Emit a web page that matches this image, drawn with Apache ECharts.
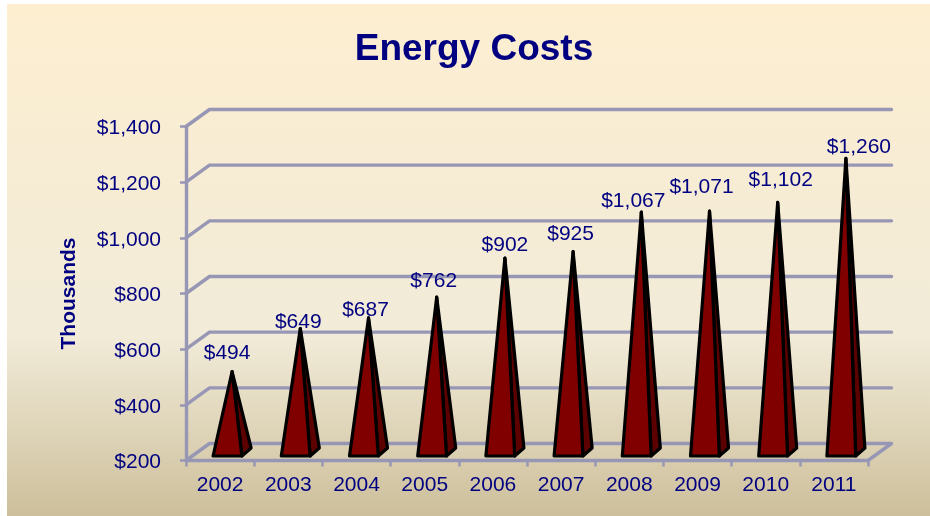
<!DOCTYPE html>
<html>
<head>
<meta charset="utf-8">
<style>
  html, body { margin: 0; padding: 0; background: #fff; }
  #main { width: 930px; height: 516px; }
</style>
<script src="https://cdn.jsdelivr.net/npm/echarts@6/dist/echarts.min.js"></script>
</head>
<body>
<div id="main"></div>
<script>
var years = ['2002', '2003', '2004', '2005', '2006', '2007', '2008', '2009', '2010', '2011'];
var costs = [494, 649, 687, 762, 902, 925, 1067, 1071, 1102, 1260];
var yTicks = [200, 400, 600, 800, 1000, 1200, 1400];

// value labels were placed by hand in the original, offset from the apex
var labelShift = [[-5, -18], [-2, -6], [-3, -8], [-3, -16], [0, -13], [-2.5, -18], [-8, -11], [-8, -24], [3, -22], [13, -11.5]];

var navy = '#000080';
var gridColor = '#9797b5';
var font = '"Liberation Sans", Arial, sans-serif';

// depth of the fake 3D floor
var depthX = 23.5;
var depthY = 17;

function money(v) {
    return '$' + String(v).replace(/\B(?=(\d{3})+$)/, ',');
}

function renderWall(params, api) {
    var cs = params.coordSys;
    var p = api.coord([0, api.value(0)]);
    var y = p[1];
    var x0 = cs.x;
    var x1 = cs.x + cs.width;
    var points = [[x0, y], [x0 + depthX, y - depthY], [x1 + depthX, y - depthY]];
    if (params.dataIndex === 0) {
        points.push([x1, y]);
    }
    return {
        type: 'polyline',
        shape: { points: points },
        style: { stroke: gridColor, lineWidth: 3.4, fill: null, lineJoin: 'round', lineCap: 'round' }
    };
}

function renderPyramid(params, api) {
    var idx = api.value(0);
    var val = api.value(1);
    var top = api.coord([idx, val]);
    var base = api.coord([idx, yTicks[0]]);
    var c = top[0];
    var baseY = base[1] - 4.5;
    var apex = [c + 12, top[1] - 7];
    var left = [c - 7, baseY];
    var right = [c + 21.8, baseY];
    var back = [c + 31, baseY - 8];
    var edge = { stroke: '#000', lineWidth: 3.2, lineJoin: 'round' };
    var shift = labelShift[params.dataIndex];
    return {
        type: 'group',
        children: [
            {
                type: 'polygon',
                shape: { points: [right, back, apex] },
                style: Object.assign({ fill: '#5c0000' }, edge)
            },
            {
                type: 'polygon',
                shape: { points: [left, right, apex] },
                style: Object.assign({ fill: '#800000' }, edge)
            },
            {
                type: 'text',
                z2: 10,
                style: {
                    x: apex[0] + shift[0],
                    y: apex[1] + shift[1],
                    text: money(val),
                    fill: navy,
                    font: '21px ' + font,
                    align: 'center',
                    verticalAlign: 'middle'
                }
            }
        ]
    };
}

var myChart = echarts.init(document.getElementById('main'), null, { renderer: 'canvas' });
var option = {
    animation: false,
    backgroundColor: '#fff',
    graphic: [{
        type: 'rect',
        z: -100,
        silent: true,
        shape: { x: 7, y: 4, width: 923, height: 512 },
        style: {
            fill: new echarts.graphic.LinearGradient(0, 0, 0, 1, [
                { offset: 0, color: '#fdeed0' },
                { offset: 0.65, color: '#f1ebd8' },
                { offset: 1, color: '#cdbf9b' }
            ])
        }
    }],
    title: {
        text: 'Energy Costs',
        left: 469,
        top: 45,
        textAlign: 'center',
        textVerticalAlign: 'middle',
        textStyle: { color: navy, fontFamily: font, fontWeight: 'bold', fontSize: 37 }
    },
    grid: { left: 186, right: 62, top: 126.5, height: 334 },
    xAxis: {
        type: 'category',
        data: years,
        axisLine: { lineStyle: { color: gridColor, width: 3.4 } },
        axisTick: { show: true, length: 6, lineStyle: { color: gridColor, width: 2.5 } },
        axisLabel: { color: navy, fontFamily: font, fontSize: 21, margin: 14 }
    },
    yAxis: {
        type: 'value',
        min: yTicks[0],
        max: yTicks[yTicks.length - 1],
        interval: 200,
        name: 'Thousands',
        nameLocation: 'middle',
        nameGap: 106,
        nameTextStyle: { color: navy, fontFamily: font, fontWeight: 'bold', fontSize: 21 },
        axisLine: { show: true, lineStyle: { color: gridColor, width: 3.4 } },
        axisTick: { show: true, length: 6, lineStyle: { color: gridColor, width: 2.5 } },
        axisLabel: {
            color: navy,
            fontFamily: font,
            fontSize: 21,
            margin: 25,
            // labels sit a little under their ticks in the original
            verticalAlign: 'top',
            lineHeight: 4,
            formatter: money
        },
        splitLine: { show: false }
    },
    series: [
        {
            type: 'custom',
            silent: true,
            clip: false,
            z: 1,
            renderItem: renderWall,
            encode: { y: 0 },
            data: yTicks.map(function (t) { return [t]; })
        },
        {
            type: 'custom',
            silent: true,
            clip: false,
            z: 3,
            renderItem: renderPyramid,
            encode: { x: 0, y: 1 },
            data: costs.map(function (v, i) { return [i, v]; })
        }
    ]
};
myChart.setOption(option);
</script>
</body>
</html>
